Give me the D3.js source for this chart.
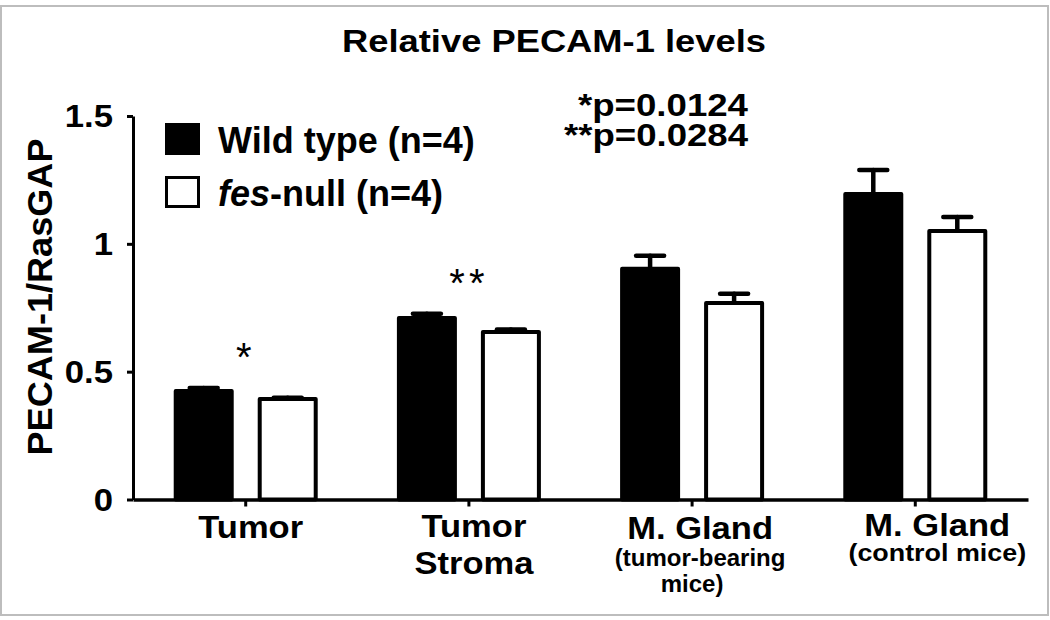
<!DOCTYPE html>
<html>
<head>
<meta charset="utf-8">
<script src="https://cdn.jsdelivr.net/npm/d3@7"></script>
<style>
  html, body { margin: 0; padding: 0; background: #fff; }
  svg { display: block; font-family: "Liberation Sans", Arial, sans-serif; }
  text { fill: #000; }
</style>
</head>
<body>
<div id="app"></div>
<script>
// ----- Data -----
const categories = ["Tumor", "Tumor Stroma", "M. Gland tumor-bearing", "M. Gland control"];
const catNames = [["Tumor"], ["Tumor", "Stroma"], ["M. Gland"], ["M. Gland"]];
const catNotes = [[], [], ["(tumor-bearing", "mice)"], ["(control mice)"]];

const seriesKeys = ["wt", "fes"];
const seriesItalic = ["", "fes"];
const seriesText = ["Wild type (n=4)", "-null (n=4)"];

const wildType    = [0.424, 0.710, 0.903, 1.195];
const wildTypeSem = [0.012, 0.017, 0.050, 0.094];
const fesNull     = [0.393, 0.655, 0.769, 1.050];
const fesNullSem  = [0.005, 0.010, 0.036, 0.055];

const sigMarks = ["*", "**", "", ""];
const pValues = ["*p=0.0124", "**p=0.0284"];
const yTicks = [0, 0.5, 1, 1.5];

const chartTitle = "Relative PECAM-1 levels";
const yTitle = "PECAM-1/RasGAP";

// ----- Layout -----
const W = 1050, H = 620;
const plotLeft = 133, plotRight = 1028, plotTop = 116, plotBottom = 499.5;

// squeeze/stretch a text horizontally to a target width
function fit(sel, width) {
    sel.each(function () {
        const w = this.getBBox().width;
        const t = d3.select(this).attr("transform") || "";
        d3.select(this).attr("transform", t + ` scale(${width / w},1)`);
    });
}

function stretch(sel, k) {
    sel.attr("transform", (sel.attr("transform") || "") + ` scale(${k},1)`);
}

function main() {
    const svg = d3.select("#app").append("svg")
        .attr("width", W)
        .attr("height", H);

    svg.append("rect")
        .attr("width", W).attr("height", H)
        .attr("fill", "#fff");

    // frame
    svg.append("rect")
        .attr("x", 1).attr("y", 6)
        .attr("width", 1047).attr("height", 609)
        .attr("fill", "none")
        .attr("stroke", "#bdbdbd")
        .attr("stroke-width", 2);

    // scales
    const x = d3.scaleBand()
        .domain(categories)
        .range([plotLeft, plotRight])
        .paddingInner(0)
        .paddingOuter(0.005);

    const sub = d3.scaleBand()
        .domain(seriesKeys)
        .range([-72, 72])
        .paddingInner(24 / 84);

    const y = d3.scaleLinear()
        .domain([0, 1.5])
        .range([plotBottom, plotTop]);

    const rows = categories.map((c, i) => [
        { cat: c, key: "wt", v: wildType[i], e: wildTypeSem[i] },
        { cat: c, key: "fes", v: fesNull[i], e: fesNullSem[i] }
    ]).flat();

    const cx = d => x(d.cat) + x.bandwidth() / 2 + sub(d.key) + sub.bandwidth() / 2;

    // error bars (mean + SEM)
    const err = svg.append("g")
        .attr("stroke", "#000")
        .attr("stroke-width", 4.5)
        .attr("stroke-linecap", "round");
    err.selectAll(".stem")
        .data(rows)
        .join("line")
            .attr("class", "stem")
            .attr("x1", cx).attr("x2", cx)
            .attr("y1", d => y(d.v)).attr("y2", d => y(d.v + d.e));
    err.selectAll(".cap")
        .data(rows)
        .join("line")
            .attr("class", "cap")
            .attr("x1", d => cx(d) - 14).attr("x2", d => cx(d) + 14)
            .attr("y1", d => y(d.v + d.e)).attr("y2", d => y(d.v + d.e));

    // bars
    svg.append("g")
        .selectAll("rect")
        .data(rows)
        .join("rect")
            .attr("x", d => x(d.cat) + x.bandwidth() / 2 + sub(d.key) + 2)
            .attr("width", sub.bandwidth() - 4)
            .attr("y", d => y(d.v))
            .attr("height", d => y(0) - y(d.v))
            .attr("fill", d => d.key === "wt" ? "#000" : "#fff")
            .attr("stroke", "#000")
            .attr("stroke-width", 4)
            .attr("stroke-linejoin", "round");

    // y axis
    const gy = svg.append("g")
        .attr("transform", `translate(${plotLeft},0)`)
        .call(d3.axisLeft(y)
            .tickValues(yTicks)
            .tickFormat(d3.format(""))
            .tickSize(6)
            .tickSizeOuter(0));
    gy.select(".domain").attr("stroke-width", 3);
    gy.selectAll(".tick line").attr("stroke-width", 3);
    gy.selectAll(".tick text")
        .attr("font-size", 31)
        .attr("font-weight", "bold")
        .attr("fill", "#000")
        .attr("x", -20 / 1.12)
        .attr("dy", "0.35em")
        .attr("transform", "scale(1.12,1)");

    // x axis
    const gx = svg.append("g")
        .attr("transform", `translate(0,${plotBottom})`)
        .call(d3.axisBottom(x)
            .tickSize(7)
            .tickSizeOuter(0)
            .tickFormat(""));
    gx.select(".domain").attr("stroke-width", 3.5);
    gx.selectAll(".tick line").attr("stroke-width", 3);

    // category labels
    const labelShift = [5, 5, 8, 22];
    const nameY = [538, 537, 539, 536];
    const noteY = [0, 0, 566, 561];
    const cat = svg.append("g")
        .attr("font-weight", "bold")
        .attr("text-anchor", "middle");
    categories.forEach((c, i) => {
        const xc = x(c) + x.bandwidth() / 2 + labelShift[i];
        catNames[i].forEach((s, j) => {
            cat.append("text")
                .attr("font-size", 32)
                .attr("transform", `translate(${xc},${nameY[i] + j * 37})`)
                .text(s)
                .call(stretch, 1.08);
        });
        catNotes[i].forEach((s, j) => {
            cat.append("text")
                .attr("font-size", 24)
                .attr("transform", `translate(${xc - j * 8},${noteY[i] + j * 26})`)
                .text(s)
                .call(stretch, i === 3 ? 1.12 : 1.0);
        });
    });

    // significance marks
    svg.append("g")
        .attr("text-anchor", "middle")
        .attr("font-size", 40)
        .attr("letter-spacing", 4)
        .selectAll("text")
        .data(categories.filter((c, i) => sigMarks[i]))
        .join("text")
            .attr("x", c => x(c) + x.bandwidth() / 2)
            .attr("y", c => {
                const i = categories.indexOf(c);
                return y(Math.max(wildType[i] + wildTypeSem[i], fesNull[i] + fesNullSem[i])) - 40 + 23;
            })
            .text(c => sigMarks[categories.indexOf(c)]);

    // title
    svg.append("text")
        .attr("text-anchor", "middle")
        .attr("font-size", 32)
        .attr("font-weight", "bold")
        .attr("transform", "translate(554,52)")
        .text(chartTitle)
        .call(fit, 424);

    // y title
    svg.append("text")
        .attr("text-anchor", "middle")
        .attr("font-size", 35)
        .attr("font-weight", "bold")
        .attr("transform", "translate(52,297) rotate(-90)")
        .text(yTitle)
        .call(fit, 317);

    // p values
    const pWidths = [171, 185];
    pValues.forEach((p, i) => {
        svg.append("text")
            .attr("text-anchor", "end")
            .attr("font-size", 31)
            .attr("font-weight", "bold")
            .attr("transform", `translate(748,${116 + i * 30})`)
            .text(p)
            .call(fit, pWidths[i]);
    });

    // legend
    const legend = svg.append("g")
        .attr("transform", "translate(165,123)");
    seriesKeys.forEach((k, i) => {
        const row = legend.append("g")
            .attr("transform", `translate(0,${i * 53})`);
        row.append("rect")
            .attr("x", 1.5).attr("y", 1.5)
            .attr("width", 32).attr("height", 29)
            .attr("fill", k === "wt" ? "#000" : "#fff")
            .attr("stroke", "#000")
            .attr("stroke-width", 3);
        const t = row.append("text")
            .attr("x", 53)
            .attr("y", 30)
            .attr("font-size", 36)
            .attr("font-weight", "bold");
        if (seriesItalic[i])
            t.append("tspan").attr("font-style", "italic").text(seriesItalic[i]);
        t.append("tspan").text(seriesText[i]);
    });
}

main();
</script>
</body>
</html>
